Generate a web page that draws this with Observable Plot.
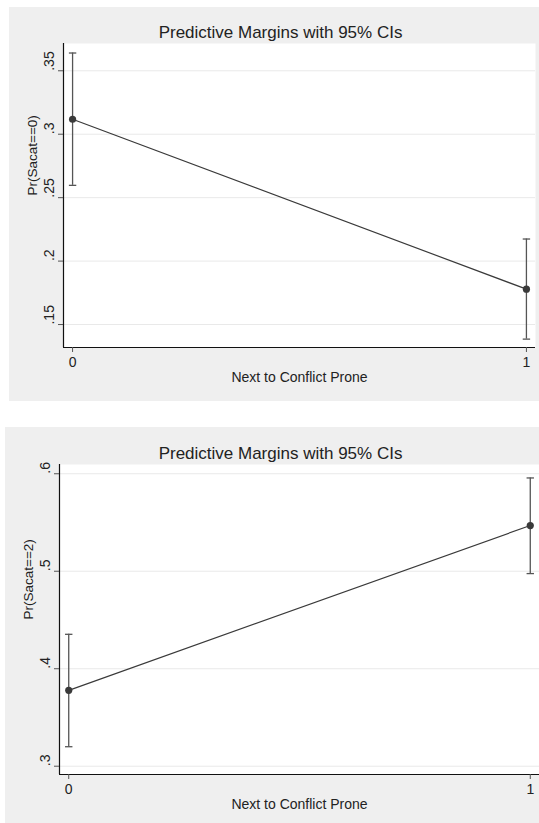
<!DOCTYPE html>
<html>
<head>
<meta charset="utf-8">
<script src="https://cdn.jsdelivr.net/npm/d3@7"></script>
<script src="https://cdn.jsdelivr.net/npm/@observablehq/plot@0.6"></script>
<style>
  html, body { margin: 0; padding: 0; background: #ffffff; overflow: hidden; }
  body { width: 539px; height: 823px; position: relative; }
  .panel { position: absolute; }
</style>
</head>
<body>
<div id="p1" class="panel" style="left:9px; top:7px;"></div>
<div id="p2" class="panel" style="left:5px; top:427px;"></div>
<script>
// ---- data ----
const categories = [0, 1];
const xLabel = "Next to Conflict Prone";
const title = "Predictive Margins with 95% CIs";

const margin0 = [0.3118, 0.1779];
const lower0  = [0.2597, 0.1385];
const upper0  = [0.3640, 0.2174];
const yTicks0 = [0.15, 0.2, 0.25, 0.3, 0.35];
const yTickLabels0 = [".15", ".2", ".25", ".3", ".35"];
const yLabel0 = "Pr(Sacat==0)";

const margin2 = [0.3778, 0.5469];
const lower2  = [0.3200, 0.4976];
const upper2  = [0.4353, 0.5957];
const yTicks2 = [0.3, 0.4, 0.5, 0.6];
const yTickLabels2 = [".3", ".4", ".5", ".6"];
const yLabel2 = "Pr(Sacat==2)";

// ---- drawing ----
const capSymbol = {
  draw(context, size) {
    const w = Math.sqrt(size / Math.PI);
    context.moveTo(-w, 0);
    context.lineTo(w, 0);
  }
};

function panel({values, lo, hi, yDomain, yTicks, yTickLabels, yLabel, width, height, mt, mr, mb, ml}) {
  const data = categories.map((c, i) => ({x: c, y: values[i], lo: lo[i], hi: hi[i]}));
  const xDomain = [-0.02, 1.02];
  return Plot.plot({
    width, height,
    marginTop: mt, marginRight: mr, marginBottom: mb, marginLeft: ml,
    x: {domain: xDomain, axis: null},
    y: {domain: yDomain, axis: null},
    style: {background: "#efefef", fontFamily: "'Liberation Sans', Arial, Helvetica, sans-serif", color: "#222", overflow: "visible"},
    marks: [
      Plot.frame({fill: "white", stroke: null}),
      Plot.gridY(yTicks, {stroke: "#e9e9e9", strokeOpacity: 1, strokeWidth: 1}),
      Plot.ruleX([xDomain[0]], {stroke: "#111", strokeWidth: 1.2}),
      Plot.ruleY([yDomain[0]], {stroke: "#111", strokeWidth: 1.2}),
      Plot.axisY({ticks: yTicks, tickSize: 5, tickFormat: () => "", label: null, stroke: "#555"}),
      Plot.text(yTicks, {y: d => d, text: (d, i) => yTickLabels[i], frameAnchor: "left", rotate: -90, lineAnchor: "bottom", dx: -9.5, fontSize: 14}),
      Plot.axisX({ticks: categories, tickSize: 5, tickPadding: 5, fontSize: 14, label: null, tickFormat: d => String(d), stroke: "#555"}),
      Plot.text([yLabel], {frameAnchor: "left", rotate: -90, lineAnchor: "bottom", dx: -27, fontSize: 13.5}),
      Plot.text([xLabel], {frameAnchor: "bottom", lineAnchor: "middle", dy: 30, fontSize: 14}),
      Plot.text([title], {frameAnchor: "top", lineAnchor: "middle", dx: -19, dy: -11, fontSize: 17}),
      Plot.line(data, {x: "x", y: "y", stroke: "#3a3a3a", strokeWidth: 1.2}),
      Plot.ruleX(data, {x: "x", y1: "lo", y2: "hi", stroke: "#555", strokeWidth: 1.3}),
      Plot.dot(data, {x: "x", y: "lo", symbol: capSymbol, r: 3.7, stroke: "#555", fill: "none", strokeWidth: 1.3}),
      Plot.dot(data, {x: "x", y: "hi", symbol: capSymbol, r: 3.7, stroke: "#555", fill: "none", strokeWidth: 1.3}),
      Plot.dot(data, {x: "x", y: "y", r: 3.6, fill: "#3a3a3a", stroke: null})
    ]
  });
}

document.getElementById("p1").appendChild(panel({
  values: margin0, lo: lower0, hi: upper0,
  yDomain: [0.1319, 0.3715], yTicks: yTicks0, yTickLabels: yTickLabels0, yLabel: yLabel0,
  width: 530, height: 394, mt: 36, mr: 4, mb: 54, ml: 54
}));
document.getElementById("p2").appendChild(panel({
  values: margin2, lo: lower2, hi: upper2,
  yDomain: [0.2915, 0.6095], yTicks: yTicks2, yTickLabels: yTickLabels2, yLabel: yLabel2,
  width: 534, height: 396, mt: 37, mr: 0, mb: 49, ml: 54
}));
</script>
</body>
</html>
